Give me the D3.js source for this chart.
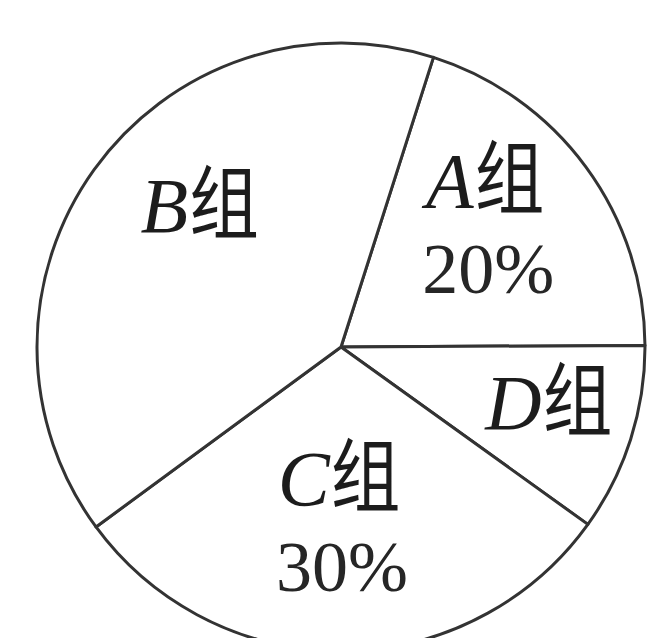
<!DOCTYPE html>
<html>
<head>
<meta charset="utf-8">
<script src="https://cdn.jsdelivr.net/npm/d3@7"></script>
<style>
  html, body { margin: 0; padding: 0; background: #fff; }
</style>
</head>
<body>
<div id="chart"></div>
<script>
// Groups in clockwise order starting from the A/B border line
const groups = ["A", "D", "C", "B"];
const shares = [20, 10, 30, 40];
// only A and C carry a printed percentage
const shareLabels = ["20%", "", "30%", ""];

const width = 650;
const height = 638;
const cx = 341, cy = 347, radius = 304;

const svg = d3.select("#chart")
  .append("svg")
  .attr("width", width)
  .attr("height", height);

const g = svg.append("g").attr("transform", `translate(${cx},${cy})`);

const startDeg = 17.7;
const pie = d3.pie()
  .sort(null)
  .value(d => d.value)
  .startAngle(startDeg * Math.PI / 180)
  .endAngle(startDeg * Math.PI / 180 + 2 * Math.PI);

const data = groups.map((name, i) => ({ name, value: shares[i], pct: shareLabels[i] }));
const arcs = pie(data);

const arc = d3.arc().innerRadius(0).outerRadius(radius);
const labelArc = d3.arc().innerRadius(195).outerRadius(195);

g.selectAll("path.slice")
  .data(arcs)
  .join("path")
  .attr("class", "slice")
  .attr("d", arc)
  .attr("fill", "#fff")
  .attr("stroke", "#333")
  .attr("stroke-width", 3)
  .attr("stroke-linejoin", "round");

// nudges from the label centroid to the name baseline
const nudge = { A: [-13, -25], D: [22, 23], C: [-3, -37], B: [17, -1] };
const serif = "'Liberation Serif', 'Times New Roman', serif";
const cjk = "'Noto Sans CJK SC', sans-serif";
const zuScale = 0.87;

const labels = g.selectAll("g.label")
  .data(arcs)
  .join("g")
  .attr("class", "label")
  .attr("transform", d => {
    const [x, y] = labelArc.centroid(d);
    const n = nudge[d.data.name];
    return `translate(${x + n[0]},${y + n[1]})`;
  });

labels.each(function (d) {
  const sel = d3.select(this);
  const name = sel.append("g");

  const letter = name.append("text")
    .attr("font-family", serif)
    .attr("font-style", "italic")
    .attr("font-size", 78)
    .attr("fill", "#1c1c1c")
    .text(d.data.name);
  const lw = letter.node().getComputedTextLength();

  const zu = name.append("text")
    .attr("font-family", cjk)
    .attr("font-weight", 400)
    .attr("font-size", 80)
    .attr("fill", "#1c1c1c")
    .attr("transform", `translate(${lw + 1},0) scale(${zuScale},1)`)
    .text("组");
  const zw = zu.node().getComputedTextLength() * zuScale;

  name.attr("transform", `translate(${-(lw + 1 + zw) / 2},0)`);

  if (d.data.pct !== "") {
    sel.append("text")
      .attr("text-anchor", "middle")
      .attr("x", 3)
      .attr("y", 86)
      .attr("fill", "#262626")
      .attr("font-family", serif)
      .attr("font-size", 72)
      .text(d.data.pct);
  }
});
</script>
</body>
</html>
